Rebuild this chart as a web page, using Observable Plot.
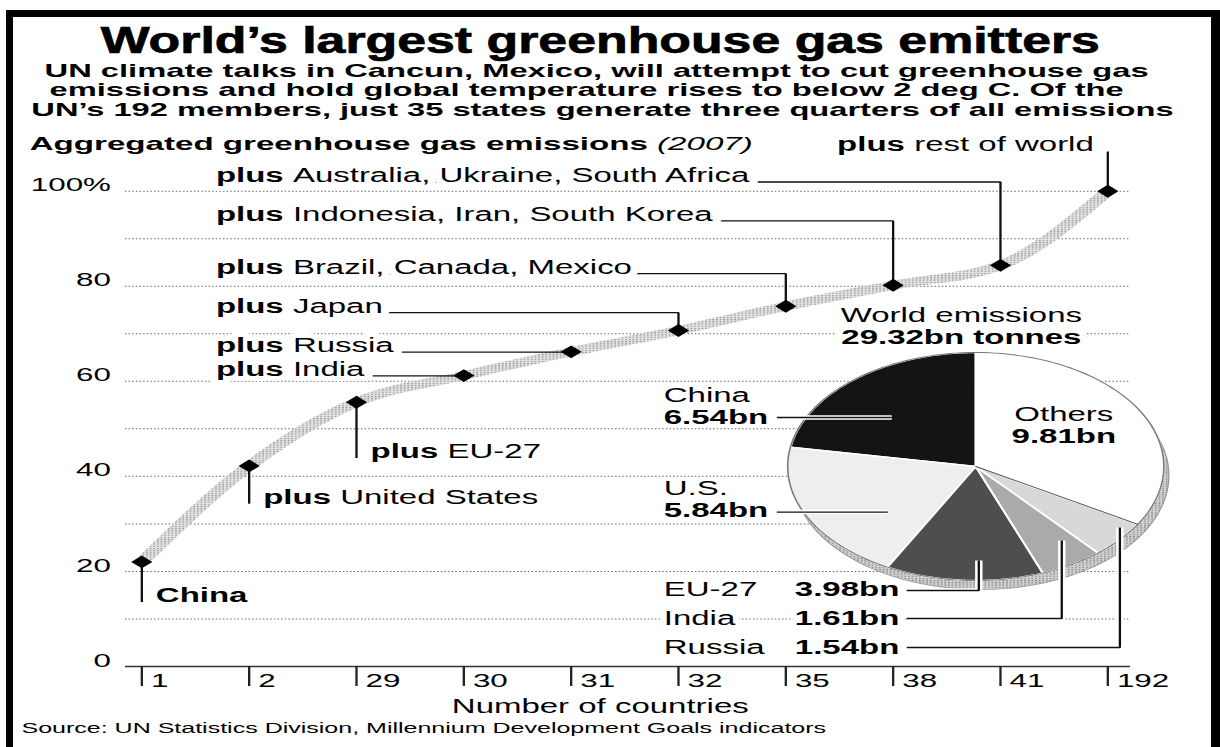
<!DOCTYPE html>
<html>
<head>
<meta charset="utf-8">
<script src="https://cdn.jsdelivr.net/npm/d3@7"></script>
<script src="https://cdn.jsdelivr.net/npm/@observablehq/plot@0.6"></script>
<style>
html,body{margin:0;padding:0;background:#fff;}
#page{position:relative;width:1220px;height:747px;overflow:hidden;background:#fff;}
#stage{position:absolute;left:0;top:0;height:747px;transform-origin:0 0;font-family:"Liberation Sans",Arial,Helvetica,sans-serif;color:#000;}
.fit{position:absolute;white-space:nowrap;line-height:1;transform-origin:0 0;}
.bar{position:absolute;background:#000;}
.layer{position:absolute;}
</style>
</head>
<body>
<svg width="0" height="0" style="position:absolute">
  <defs>
    <pattern id="stippleBand" width="2.2" height="2.2" patternUnits="userSpaceOnUse">
      <rect width="2.2" height="2.2" fill="#e2e2e2"></rect>
      <rect width="1.1" height="1.1" fill="#9a9a9a"></rect>
    </pattern>
    <pattern id="stippleSide" width="2.2" height="2.2" patternUnits="userSpaceOnUse">
      <rect width="2.2" height="2.2" fill="#d0d0d0"></rect>
      <rect width="1.1" height="1.1" fill="#8a8a8a"></rect>
    </pattern>
  </defs>
</svg>
<div id="page">
  <div id="stage"></div>
  <div class="bar" style="left:6px;top:10px;width:7px;height:737px"></div>
  <div class="bar" style="left:6px;top:10px;width:1214px;height:7px"></div>
  <div class="bar" style="left:1211px;top:10px;width:9px;height:737px"></div>
</div>
<script>
// ---------------- data ----------------
const xLabels = ["1", "2", "29", "30", "31", "32", "35", "38", "41", "192"];
const cumShare = [22.0, 42.2, 55.6, 61.2, 66.2, 70.7, 75.8, 80.2, 84.4, 100];
const calloutNames = ["China", "United States", "EU-27", "India", "Russia", "Japan",
  "Brazil, Canada, Mexico", "Indonesia, Iran, South Korea", "Australia, Ukraine, South Africa", "rest of world"];
const yTicks = [0, 20, 40, 60, 80, 100];
const gridLevels = [10, 20, 30, 40, 50, 60, 70, 80, 90, 100];
const pieNames = ["China", "U.S.", "EU-27", "India", "Russia", "Others"];
const pieValues = [6.54, 5.84, 3.98, 1.61, 1.54, 9.81];

// ---------------- annotation layout (data units) ----------------
const calloutLevel = [14.9, 35.6, 45.2, 62.5, 67.5, 75.8, 84.0, 95.1, 103.3, 109.7];
const labelColumnX = 0.69;

// ---------------- setup ----------------
const S = 1.65;               // horizontal stretch of the reference
const W0 = 1220 / S;
const FONT = '"Liberation Sans", Arial, Helvetica, sans-serif';
const FS = 20;
const stage = document.getElementById("stage");
stage.style.width = W0 + "px";
stage.style.transform = `scaleX(${S})`;

const ctx = document.createElement("canvas").getContext("2d");
function tw(str, weight, size) {
  ctx.font = `${weight} ${size}px ${FONT}`;
  return ctx.measureText(str).width;
}

function fitText(html, o) {
  const el = document.createElement("div");
  el.className = "fit";
  el.innerHTML = html;
  el.style.left = o.left + "px";
  el.style.top = (o.baseline - 0.8465 * o.size) + "px";
  el.style.fontSize = o.size + "px";
  el.style.fontWeight = o.weight || 400;
  if (o.extra) Object.assign(el.style, o.extra);
  stage.appendChild(el);
  const w = el.offsetWidth;
  el.style.transform = `scaleX(${o.width / w})`;
  return el;
}

// ---------------- header ----------------
fitText("World’s largest greenhouse gas emitters",
  {left: 101 / S, baseline: 53, width: 1000 / S, size: 37, weight: 900, extra: {webkitTextStroke: "0.7px #000"}});
fitText("UN climate talks in Cancun, Mexico, will attempt to cut greenhouse gas",
  {left: 44 / S, baseline: 77.5, width: 1104 / S, size: 18.5, weight: 700});
fitText("emissions and hold global temperature rises to below 2 deg C. Of the",
  {left: 49 / S, baseline: 97, width: 1075 / S, size: 18.5, weight: 700});
fitText("UN’s 192 members, just 35 states generate three quarters of all emissions",
  {left: 31 / S, baseline: 116.5, width: 1142 / S, size: 18.5, weight: 700});
fitText('Aggregated greenhouse gas emissions <span style="font-weight:400;font-style:italic">(2007)</span>',
  {left: 30 / S, baseline: 150.7, width: 723 / S, size: 18.5, weight: 700});

// ---------------- main chart ----------------
const series = xLabels.map((lab, i) => ({i, lab, v: cumShare[i]}));

const leaderPts = [];
calloutNames.forEach((n, i) => {
  const L = calloutLevel[i] - 1.35;
  const v = cumShare[i];
  let pts;
  if (i < 3) pts = [[i, v], [i, L]];
  else if (i < 9) pts = [[labelColumnX, L], [i, L], [i, v]];
  else pts = [[i, L], [i, v]];
  pts.forEach(([x, y]) => leaderPts.push({id: i, x, y}));
});

const textItems = [];
calloutNames.forEach((name, i) => {
  const y = calloutLevel[i];
  if (i === calloutNames.length - 1) {
    textItems.push({x: i, y, text: name, bold: false, dx: -8.5, anchor: "end"});
    textItems.push({x: i, y, text: "plus", bold: true, dx: -8.5 - tw(" " + name, 400, FS), anchor: "end"});
  } else {
    const x = i < 3 ? i : labelColumnX;
    const dx0 = i < 3 ? 8.5 : 0;
    if (i === 0) textItems.push({x, y, text: name, bold: true, dx: dx0, anchor: "start"});
    else {
      textItems.push({x, y, text: "plus", bold: true, dx: dx0, anchor: "start"});
      textItems.push({x, y, text: name, bold: false, dx: dx0 + tw("plus ", 700, FS), anchor: "start"});
    }
  }
});

const haloMarks = textItems.map(t => Plot.text([t], {
  x: "x", y: "y", text: "text", dx: t.dx, textAnchor: t.anchor,
  fontWeight: t.bold ? "bold" : "normal", fontSize: FS,
  fill: "white", stroke: "white", strokeWidth: 10, strokeLinejoin: "round"
}));
const textMarks = textItems.map(t => Plot.text([t], {
  x: "x", y: "y", text: "text", dx: t.dx, textAnchor: t.anchor,
  fontWeight: t.bold ? "bold" : "normal", fontSize: FS, fill: "#000"
}));

const main = Plot.plot({
  width: W0, height: 590,
  marginTop: 65.7, marginBottom: 49, marginLeft: 125 / S, marginRight: W0 - 1130 / S,
  style: {fontFamily: FONT, fontSize: "20px", background: "transparent", overflow: "visible", color: "#000"},
  x: {type: "linear", domain: [0, xLabels.length - 1], range: [141 / S, 1107 / S], label: null, axis: null},
  y: {domain: [0, 100], label: null, axis: null},
  marks: [
    Plot.ruleY(gridLevels, {stroke: "#666", strokeWidth: 1, strokeDasharray: "0.9 1.3"}),
    Plot.ruleY([0], {stroke: "#333", strokeWidth: 1.3}),
    Plot.axisY(yTicks, {tickFormat: d => d === 100 ? "100%" : String(d), tickSize: 0, tickPadding: 9,
      fontSize: 19, dy: -6, label: null}),
    Plot.axisX(d3.range(xLabels.length), {tickSize: 20, fill: "none", stroke: "#222", strokeWidth: 1.4,
      label: null, tickFormat: () => ""}),
    Plot.axisX(d3.range(xLabels.length), {tickSize: 0, tickPadding: 7.5, textAnchor: "start", dx: 5.5,
      fontSize: 19, label: null, tickFormat: i => xLabels[i]}),
    Plot.text(["Number of countries"], {frameAnchor: "bottom", lineAnchor: "middle", dx: -17, dy: 40, fontSize: FS}),
    Plot.line(series, {x: "i", y: "v", stroke: "url(#stippleBand)", strokeWidth: 9, curve: "monotone-x"}),
    Plot.line(leaderPts, {x: "x", y: "y", z: "id", stroke: "#111", strokeWidth: 1.4,
      strokeLinecap: "butt", strokeLinejoin: "miter"}),
    ...haloMarks,
    ...textMarks,
    Plot.dot(series, {x: "i", y: "v", symbol: "diamond2", r: 5.8, fill: "#000", stroke: "none"})
  ]
});
const mainWrap = document.createElement("div");
mainWrap.className = "layer";
mainWrap.style.left = "0px";
mainWrap.style.top = "125px";
mainWrap.appendChild(main);
stage.appendChild(mainWrap);

// ---------------- pie ----------------
const pieFill = ["#141414", "#eeeeee", "#4e4e4e", "#aaaaaa", "#d8d8d8", "#ffffff"];
const pieUnit = 114, pieW = 344, pieH = 365, pieCX = 195.9, pieCY = 166;
const total = d3.sum(pieValues);
const circle = d3.range(0, 361, 2).map(a => ({x: Math.cos(a * Math.PI / 180), y: Math.sin(a * Math.PI / 180)}));
const pieMarks = [];
pieMarks.push(Plot.line(circle, {x: "x", y: "y", fill: "url(#stippleSide)", stroke: "#999", strokeWidth: 0.8, dx: 3, dy: 9}));
let acc = 0;
const bounds = [];
pieValues.forEach((v, i) => {
  const a0 = acc / total * 2 * Math.PI; acc += v; const a1 = acc / total * 2 * Math.PI;
  const n = Math.max(2, Math.ceil((a1 - a0) / 0.02));
  const pts = [{x: 0, y: 0}];
  for (let k = 0; k <= n; k++) { const a = a0 + (a1 - a0) * k / n; pts.push({x: -Math.sin(a), y: Math.cos(a)}); }
  pts.push({x: 0, y: 0});
  pieMarks.push(Plot.line(pts, {x: "x", y: "y", fill: pieFill[i], stroke: "white", strokeWidth: 1.4}));
  bounds.push(a1);
});
pieMarks.push(Plot.line(circle, {x: "x", y: "y", stroke: "#7a7a7a", strokeWidth: 1}));
const aRO = bounds[4];
pieMarks.push(Plot.line([{x: 0, y: 0}, {x: -Math.sin(aRO), y: Math.cos(aRO)}], {x: "x", y: "y", stroke: "#555", strokeWidth: 0.9}));

// pie label layout (pie radius units)
const pieLeaderLayout = [
  [[-1.058, 0.43], [-0.447, 0.43]],
  [[-1.058, -0.40], [-0.468, -0.40]],
  [[-0.367, -1.088], [0.016, -1.088], [0.016, -0.825]],
  [[-0.367, -1.333], [0.457, -1.333], [0.457, -0.649]],
  [[-0.367, -1.588], [0.766, -1.588], [0.766, -0.535]]
];
const pieLabelLayout = [
  {name: [-1.659, 0.623], value: [-1.659, 0.43], anchor: "start", halo: true},
  {name: [-1.659, -0.193], value: [-1.659, -0.39], anchor: "start", halo: true},
  {name: [-1.659, -1.079], value: [-0.962, -1.079], anchor: "start", halo: true},
  {name: [-1.659, -1.333], value: [-0.962, -1.333], anchor: "start", halo: true},
  {name: [-1.659, -1.588], value: [-0.962, -1.588], anchor: "start", halo: true},
  {name: [0.468, 0.458], value: [0.468, 0.262], anchor: "middle", halo: false}
];
const pieLeaderPts = [];
pieLeaderLayout.forEach((pts, i) => pts.forEach(([x, y]) => pieLeaderPts.push({id: i, x, y})));
pieMarks.push(Plot.line(pieLeaderPts, {x: "x", y: "y", z: "id", stroke: "white", strokeWidth: 4.5, strokeLinecap: "butt", strokeLinejoin: "miter"}));
pieMarks.push(Plot.line(pieLeaderPts, {x: "x", y: "y", z: "id", stroke: "#111", strokeWidth: 1.4, strokeLinecap: "butt", strokeLinejoin: "miter"}));

const pieTexts = [];
pieNames.forEach((n, i) => {
  const L = pieLabelLayout[i];
  pieTexts.push({x: L.name[0], y: L.name[1], text: n, bold: false, anchor: L.anchor, halo: L.halo});
  pieTexts.push({x: L.value[0], y: L.value[1], text: pieValues[i].toFixed(2) + "bn", bold: true, anchor: L.anchor, halo: L.halo});
});
pieTexts.push({x: -0.077, y: 1.325, text: "World emissions", bold: false, anchor: "middle", halo: true});
pieTexts.push({x: -0.077, y: 1.132, text: total.toFixed(2) + "bn tonnes", bold: true, anchor: "middle", halo: true});
["white", null].forEach(halo => {
  ["start", "middle"].forEach(anchor => [false, true].forEach(bold => {
    const d = pieTexts.filter(t => t.anchor === anchor && t.bold === bold && (halo ? t.halo : true));
    if (!d.length) return;
    pieMarks.push(Plot.text(d, Object.assign({
      x: "x", y: "y", text: "text", textAnchor: anchor, fontSize: FS, fontWeight: bold ? "bold" : "normal"
    }, halo ? {fill: "white", stroke: "white", strokeWidth: 8, strokeLinejoin: "round"} : {fill: "#000"})));
  }));
});

const pie = Plot.plot({
  width: pieW, height: pieH, margin: 0,
  style: {fontFamily: FONT, fontSize: "20px", background: "transparent", overflow: "visible", color: "#000"},
  x: {domain: [-pieCX / pieUnit, (pieW - pieCX) / pieUnit], range: [0, pieW], label: null, axis: null},
  y: {domain: [-(pieH - pieCY) / pieUnit, pieCY / pieUnit], range: [pieH, 0], label: null, axis: null},
  marks: pieMarks
});
const pieWrap = document.createElement("div");
pieWrap.className = "layer";
pieWrap.style.left = "395px";
pieWrap.style.top = "300px";
pieWrap.appendChild(pie);
stage.appendChild(pieWrap);

// ---------------- source ----------------
fitText("Source: UN Statistics Division, Millennium Development Goals indicators",
  {left: 22 / S, baseline: 733.5, width: 805 / S, size: 15.5});
</script>
</body>
</html>
